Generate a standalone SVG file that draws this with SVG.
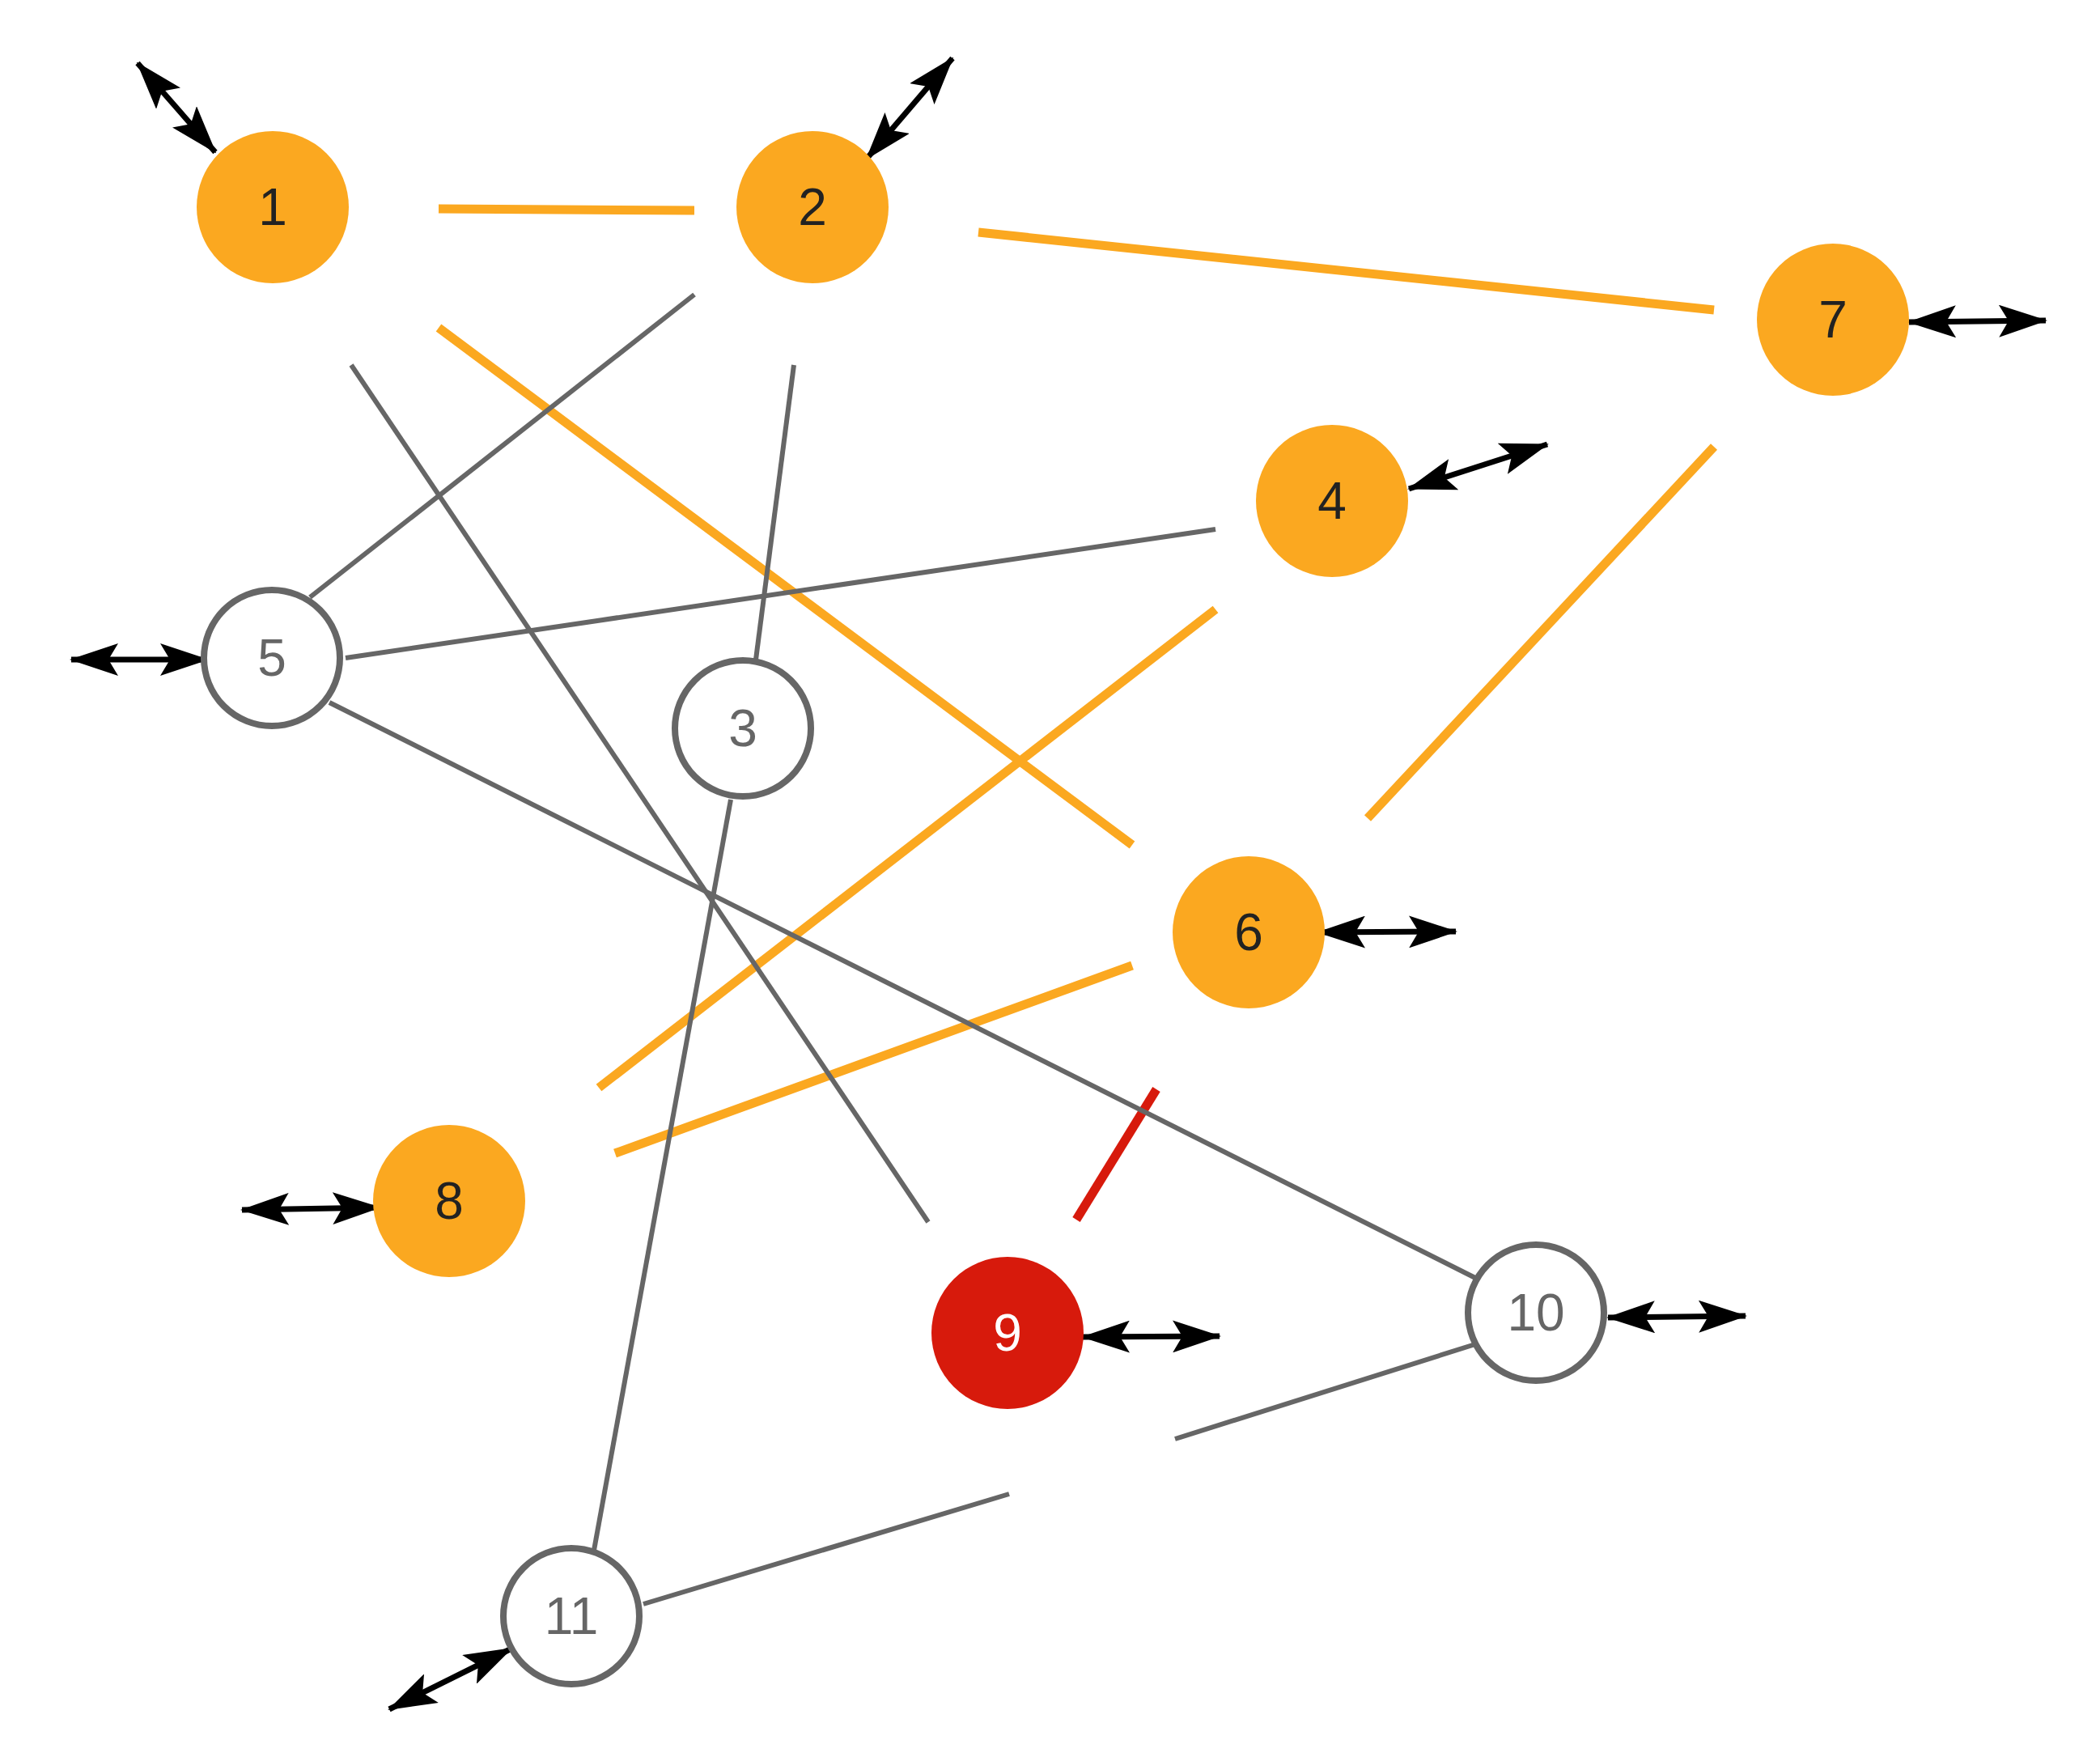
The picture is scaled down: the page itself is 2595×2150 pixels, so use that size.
<svg xmlns="http://www.w3.org/2000/svg" width="2595" height="2150" viewBox="0 0 2595 2150">
<style>
.o{stroke:#FBA820;stroke-width:11;fill:none}
.g{stroke:#666;stroke-width:6;fill:none}
.r{stroke:#D71A0C;stroke-width:11;fill:none}
.a{stroke:#000;stroke-width:7;fill:none;marker-start:url(#ah);marker-end:url(#ah)}
.fo{fill:#FBA820}
.fr{fill:#D71A0C}
.fw{fill:#fff;stroke:#666;stroke-width:8}
text{font-family:"Liberation Sans",Arial,sans-serif;font-size:64px;text-anchor:middle;dominant-baseline:central}
.td{fill:#222}.tg{fill:#666}.tw{fill:#fff}
</style>
<defs>
<marker id="ah" markerUnits="userSpaceOnUse" viewBox="0 0 60 40" markerWidth="60" markerHeight="40" refX="58" refY="20" orient="auto-start-reverse">
<path d="M0,0 L60,20 L0,40 L12,20 z" fill="#000"/>
</marker>
</defs>
<rect width="2595" height="2150" fill="#fff"/>
<g id="connectors">
<line class="o" x1="542" y1="258" x2="858" y2="260"/>
<line class="o" x1="1209" y1="287" x2="2118" y2="383"/>
<line class="o" x1="542" y1="405" x2="1399" y2="1044"/>
<line class="o" x1="1502" y1="753" x2="740" y2="1344"/>
<line class="o" x1="2118" y1="552" x2="1690" y2="1011"/>
<line class="o" x1="1399" y1="1193" x2="760" y2="1425"/>
<line class="r" x1="1429" y1="1346" x2="1330" y2="1507"/>
<line class="g" x1="383" y1="738" x2="858" y2="364"/>
<line class="g" x1="434" y1="451" x2="1147" y2="1510"/>
<line class="g" x1="981" y1="451" x2="934" y2="815"/>
<line class="g" x1="427" y1="813" x2="1502" y2="654"/>
<line class="g" x1="407" y1="868" x2="1829" y2="1582"/>
<line class="g" x1="903" y1="988" x2="733" y2="1921"/>
<line class="g" x1="795" y1="1982" x2="1247" y2="1846"/>
<line class="g" x1="1452" y1="1778" x2="1823" y2="1661"/>
<line class="a" x1="170" y1="78" x2="266" y2="188"/>
<line class="a" x1="1177" y1="72" x2="1071" y2="196"/>
<line class="a" x1="2528" y1="396" x2="2359" y2="398"/>
<line class="a" x1="1912" y1="549" x2="1741" y2="604"/>
<line class="a" x1="88" y1="815" x2="256" y2="815"/>
<line class="a" x1="1799" y1="1151" x2="1629" y2="1152"/>
<line class="a" x1="299" y1="1495" x2="469" y2="1492"/>
<line class="a" x1="1507" y1="1651" x2="1338" y2="1652"/>
<line class="a" x1="2157" y1="1626" x2="1987" y2="1628"/>
<line class="a" x1="481" y1="2112" x2="632" y2="2037"/>
</g>
<g id="n1"><circle class="fo" cx="337" cy="256" r="94"/><text class="td" x="337" y="256">1</text></g>
<g id="n2"><circle class="fo" cx="1004" cy="256" r="94"/><text class="td" x="1004" y="256">2</text></g>
<g id="n3"><circle class="fw" cx="918" cy="900" r="84"/><text class="tg" x="918" y="900">3</text></g>
<g id="n4"><circle class="fo" cx="1646" cy="619" r="94"/><text class="td" x="1646" y="619">4</text></g>
<g id="n5"><circle class="fw" cx="336" cy="813" r="84"/><text class="tg" x="336" y="813">5</text></g>
<g id="n6"><circle class="fo" cx="1543" cy="1152" r="94"/><text class="td" x="1543" y="1152">6</text></g>
<g id="n7"><circle class="fo" cx="2265" cy="395" r="94"/><text class="td" x="2265" y="395">7</text></g>
<g id="n8"><circle class="fo" cx="555" cy="1484" r="94"/><text class="td" x="555" y="1484">8</text></g>
<g id="n9"><circle class="fr" cx="1245" cy="1647" r="94"/><text class="tw" x="1245" y="1647">9</text></g>
<g id="n10"><circle class="fw" cx="1898" cy="1622" r="84"/><text class="tg" x="1898" y="1622">10</text></g>
<g id="n11"><circle class="fw" cx="706" cy="1997" r="84"/><text class="tg" x="706" y="1997">11</text></g>
</svg>
